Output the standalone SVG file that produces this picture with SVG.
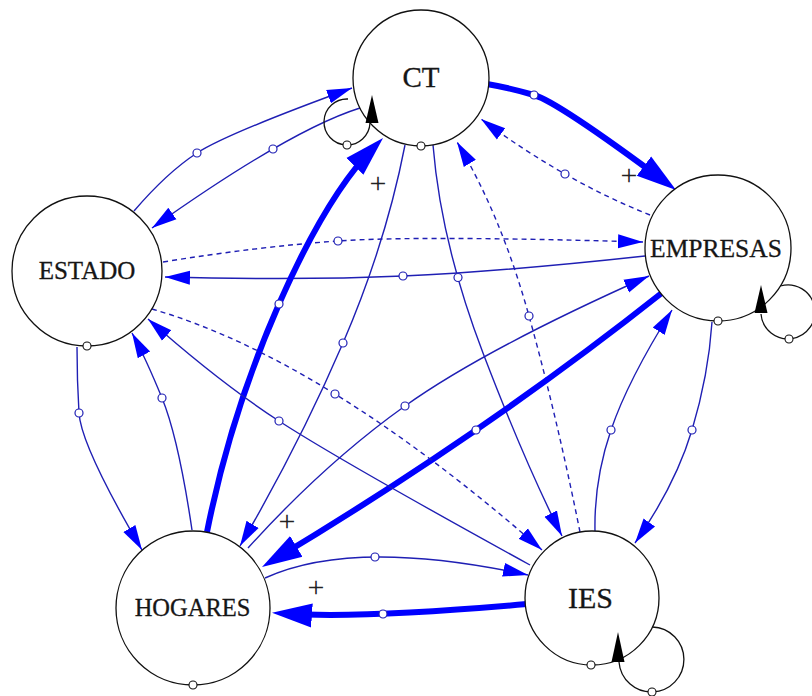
<svg xmlns="http://www.w3.org/2000/svg" width="812" height="696" viewBox="0 0 812 696">
  <defs>
    <style>
      .e { fill: none; stroke: #1f1fb4; stroke-width: 1.4; marker-end: url(#ah); }
      .dash { stroke-dasharray: 5 4; }
      .thick { stroke: #0000ff; stroke-width: 6; marker-end: url(#ahT); }
      .m { fill: #fff; stroke: #1f1fb4; stroke-width: 1.2; }
      .pm { fill: #fff; stroke: #111; stroke-width: 1.1; }
      .node { fill: #fff; stroke: #111; stroke-width: 1.3; }
      .lbl { font-family: "Liberation Serif", "Times New Roman", serif; fill: #161616; stroke: #161616; stroke-width: 0.3; text-anchor: middle; }
      .loop { fill: none; stroke: #111; stroke-width: 1.3; }
      .tip { fill: #000; }
      .plus { font-family: "Liberation Serif", "Times New Roman", serif; font-size: 30px; fill: #222; text-anchor: middle; }
    </style>
    <marker id="ah" markerUnits="userSpaceOnUse" markerWidth="28" markerHeight="18" viewBox="0 -9 28 18" refX="25" refY="0" orient="auto">
      <path d="M0,-7 L25,0 L0,7 Z" fill="#0000ff"/>
    </marker>
    <marker id="ahT" markerUnits="userSpaceOnUse" markerWidth="42" markerHeight="28" viewBox="0 -14 42 28" refX="28" refY="0" orient="auto">
      <path d="M0,-12 L40,0 L0,12 Z" fill="#0000ff"/>
    </marker>
  </defs>

  <rect width="812" height="696" fill="#fff"/>

  <!-- directed influences between sectors -->
  <g id="connectors">
    <path id="ct-empresas" class="e thick" d="M487,84 Q510,88 534,95 T666.4,182.8"/>
    <path id="empresas-ct" class="e dash" d="M650,215 Q564.5,181 481,119"/>
    <path id="estado-ct" class="e" d="M134,211 Q167,172.5 197,153 T352,88"/>
    <path id="ct-estado" class="e" d="M360,108 Q290,130 152,228"/>
    <path id="estado-empresas" class="e dash" d="M163,262 Q258,246.6 338,241 T643,242"/>
    <path id="empresas-estado" class="e" d="M645,256 Q503,271.5 403,276 T165,277"/>
    <path id="ct-ies" class="e" d="M433,145 Q441,243 483,353 T562,536"/>
    <path id="ies-ct" class="e dash" d="M580,532 Q556.7,416 529,316 T457,142"/>
    <path id="ies-empresas" class="e" d="M595,531 Q594,480 611,430 T672,310"/>
    <path id="empresas-ies" class="e" d="M712,322 Q708.5,375 692,430 T635,543"/>
    <path id="estado-hogares" class="e" d="M77,347 Q77,380 79,413 T142,550"/>
    <path id="hogares-estado" class="e" d="M192,530 Q178.4,438 162,398 T132,333"/>
    <path id="hogares-ct" class="e thick" d="M207,532 Q230.6,414 279,304 T374.6,146.5"/>
    <path id="ct-hogares" class="e" d="M405,145 Q386,243 343,343 T240,546"/>
    <path id="hogares-empresas" class="e" d="M248,548 Q325,463 405,406 T649,276"/>
    <path id="empresas-hogares" class="e thick" d="M663,292 Q484.35,433.6 272.3,560.8"/>
    <path id="estado-ies" class="e dash" d="M152,309 Q323,358.5 542,550"/>
    <path id="ies-estado" class="e" d="M530,565 Q339,460 279,421 T148,319"/>
    <path id="hogares-ies" class="e" d="M265,578 Q353.5,537.5 528,575"/>
    <path id="ies-hogares" class="e thick" d="M527,604 Q360.5,618.75 284,613.5"/>

    <!-- mid-edge handles -->
    <g id="edge-handles">
      <circle class="m" cx="534" cy="95" r="4"/>
      <circle class="m" cx="565" cy="174" r="4"/>
      <circle class="m" cx="197" cy="153" r="4"/>
      <circle class="m" cx="273" cy="149" r="4"/>
      <circle class="m" cx="338" cy="241" r="4"/>
      <circle class="m" cx="403" cy="276" r="4"/>
      <circle class="m" cx="458" cy="277.5" r="4"/>
      <circle class="m" cx="529" cy="316" r="4"/>
      <circle class="m" cx="611" cy="430" r="4"/>
      <circle class="m" cx="692" cy="430" r="4"/>
      <circle class="m" cx="79" cy="413" r="4"/>
      <circle class="m" cx="162" cy="398" r="4"/>
      <circle class="m" cx="279" cy="304" r="4"/>
      <circle class="m" cx="343" cy="343" r="4"/>
      <circle class="m" cx="405" cy="406" r="4"/>
      <circle class="m" cx="476" cy="430" r="4"/>
      <circle class="m" cx="335" cy="394" r="4"/>
      <circle class="m" cx="279" cy="421" r="4"/>
      <circle class="m" cx="375" cy="557" r="4"/>
      <circle class="m" cx="383" cy="614" r="4"/>
    </g>

    <!-- polarity signs -->
    <text class="plus" x="378" y="193">+</text>
    <text class="plus" x="629" y="185">+</text>
    <text class="plus" x="287" y="531">+</text>
    <text class="plus" x="316" y="597">+</text>
  </g>

  <g id="CT">
    <circle class="node" cx="421" cy="78" r="68"/>
    <text class="lbl" x="421" y="87" font-size="29">CT</text>
    <circle class="pm" cx="421" cy="146" r="4"/>
  </g>

  <g id="EMPRESAS">
    <circle class="node" cx="718" cy="248" r="73"/>
    <text class="lbl" x="716" y="257" font-size="25.5">EMPRESAS</text>
    <circle class="pm" cx="718" cy="321" r="4"/>
  </g>

  <g id="ESTADO">
    <circle class="node" cx="87" cy="271" r="75"/>
    <text class="lbl" x="87" y="279" font-size="25">ESTADO</text>
    <circle class="pm" cx="87" cy="346" r="4"/>
  </g>

  <g id="HOGARES">
    <circle class="node" cx="193" cy="608" r="77"/>
    <text class="lbl" x="192.5" y="616" font-size="24.5">HOGARES</text>
    <circle class="pm" cx="193" cy="685" r="4"/>
  </g>

  <g id="IES">
    <circle class="node" cx="592" cy="598" r="67"/>
    <text class="lbl" x="590.5" y="608" font-size="30">IES</text>
    <circle class="pm" cx="591" cy="665" r="4"/>
  </g>

  <!-- self-reinforcing loops -->
  <g id="self-loops">
    <path class="loop" d="M348,99 A23,23 0 1 0 370,123"/>
    <polygon class="tip" points="372,95 365.5,123 378.5,123"/>
    <circle class="pm" cx="347" cy="145" r="4"/>

    <path class="loop" d="M780.3,286 A27,27 0 1 1 761,314"/>
    <polygon class="tip" points="761,285 754.5,313 767.5,313"/>
    <circle class="pm" cx="789" cy="339" r="4"/>

    <path class="loop" d="M652.4,627 A32.5,32.5 0 1 1 619,662"/>
    <polygon class="tip" points="618,632 611.5,662 624.5,662"/>
    <circle class="pm" cx="652" cy="692" r="4"/>
  </g>
</svg>
